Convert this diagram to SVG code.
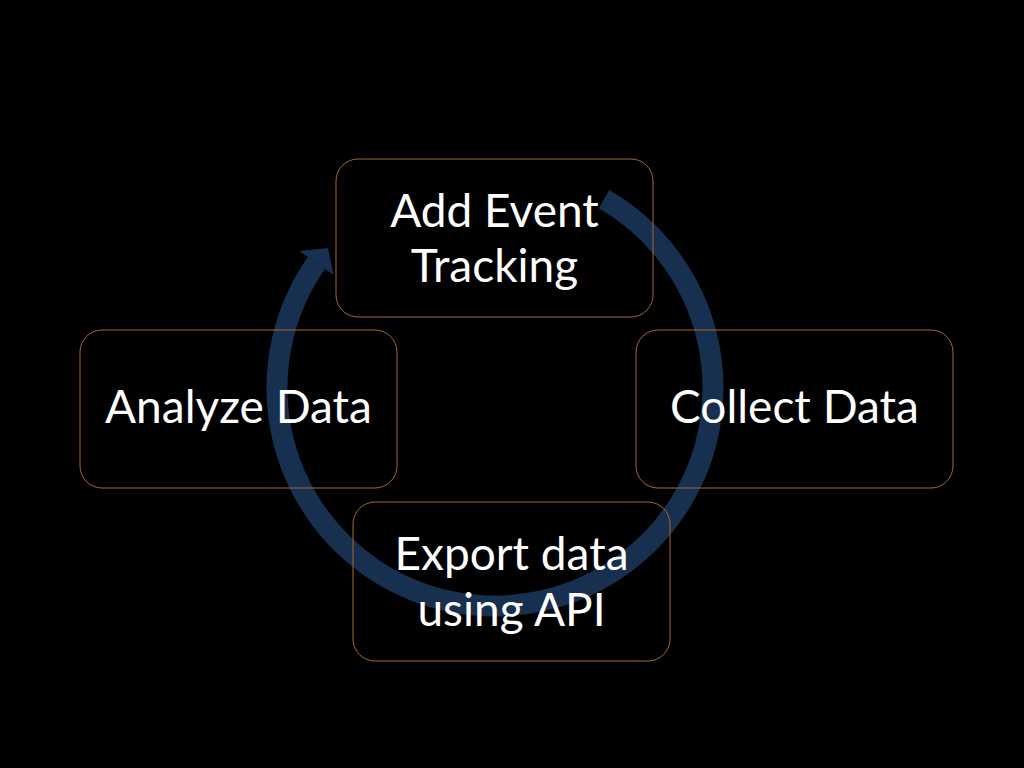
<svg xmlns="http://www.w3.org/2000/svg" width="1024" height="768" viewBox="0 0 1024 768">
  <style>
    .box { fill: #000000; fill-opacity: 0; stroke: #a8692f; stroke-width: 1; }
    .lbl { font-family: Lato, "Open Sans", "Liberation Sans", sans-serif; font-size: 46px; fill: #ffffff; text-anchor: middle; }
  </style>
  <rect x="0" y="0" width="1024" height="768" fill="#000000"/>
  <g id="connectors">
    <path d="M 604 199.2 A 218 218 0 1 1 316.4 263" fill="none" stroke="#18304f" stroke-width="21"/>
    <polygon points="299.2,250.9 328,247.9 333.6,275" fill="#18304f"/>
  </g>
  <g id="node-add-event">
    <rect class="box" x="336" y="159" width="317" height="158" rx="22"/>
    <text class="lbl" x="494.5" y="227">Add Event</text>
    <text class="lbl" x="494.5" y="282">Tracking</text>
  </g>
  <g id="node-collect">
    <rect class="box" x="636" y="330" width="317" height="158" rx="22"/>
    <text class="lbl" x="794.5" y="423">Collect Data</text>
  </g>
  <g id="node-export">
    <rect class="box" x="353" y="502" width="317" height="159" rx="22"/>
    <text class="lbl" x="511.5" y="570">Export data</text>
    <text class="lbl" x="511.5" y="626">using API</text>
  </g>
  <g id="node-analyze">
    <rect class="box" x="80" y="330" width="317" height="158" rx="22"/>
    <text class="lbl" x="238.5" y="423">Analyze Data</text>
  </g>
</svg>
